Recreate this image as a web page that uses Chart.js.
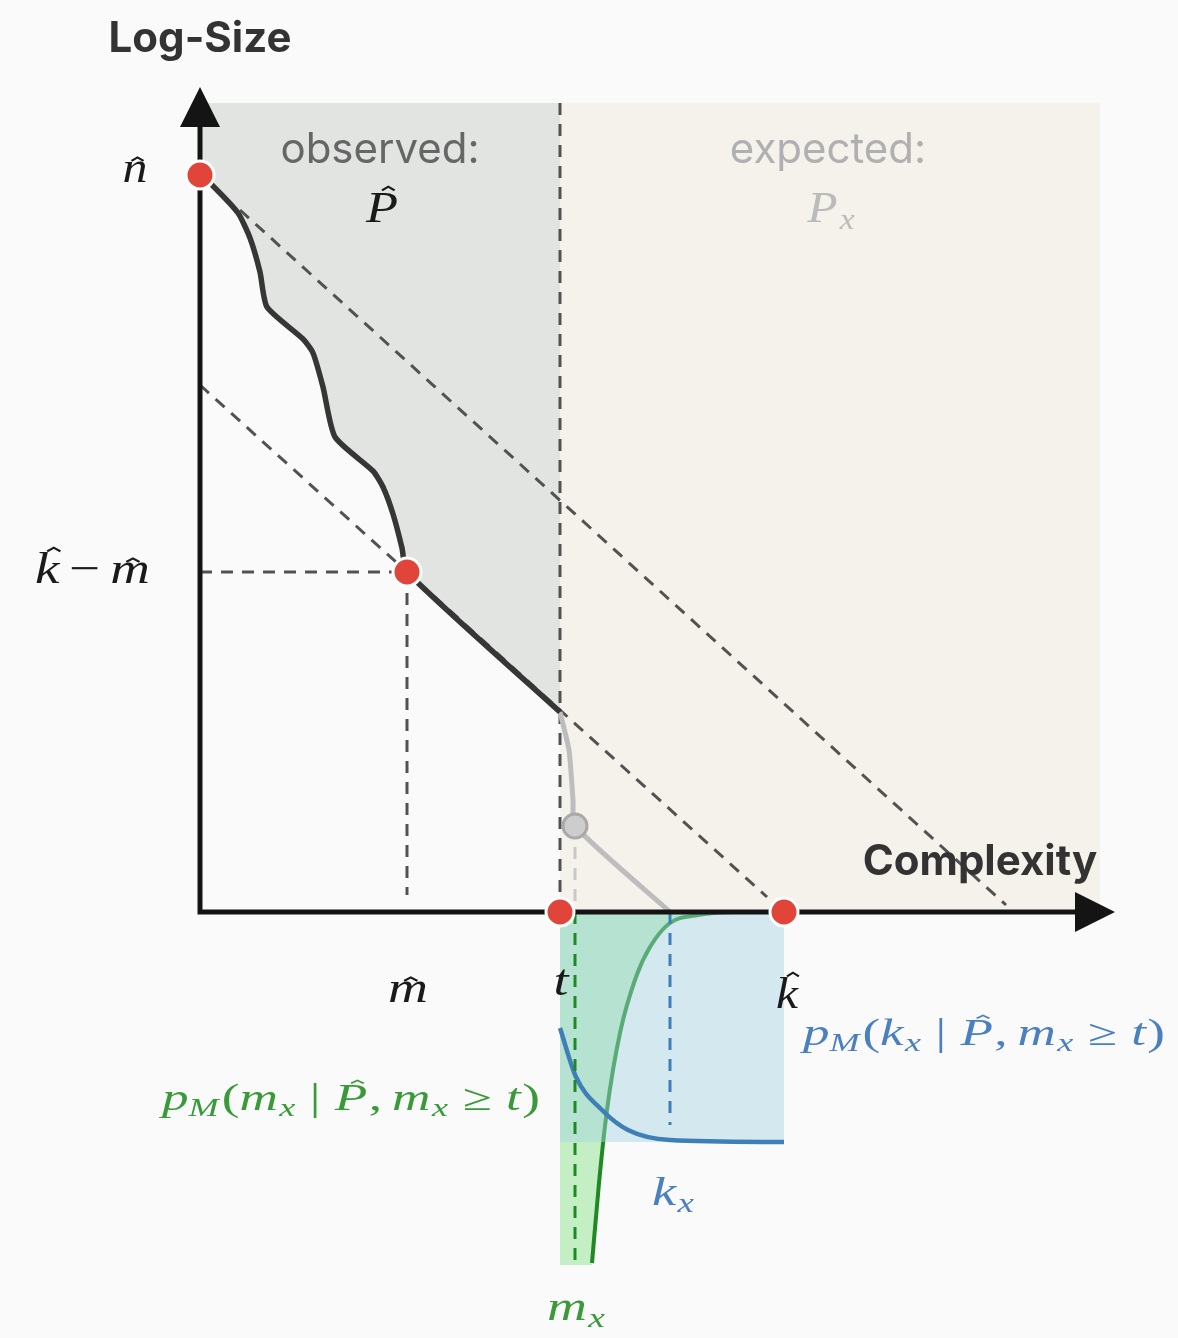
<!DOCTYPE html>
<html>
<head>
<meta charset="utf-8">
<script src="https://cdn.jsdelivr.net/npm/chart.js@4"></script>
<style>
  html, body { margin: 0; background: #fafafa; }
  canvas { display: block; }
</style>
</head>
<body>
<canvas id="canvas1" width="1178" height="1338"></canvas>
<script>
// observed profile P-hat: complexity vs log-size
const obsX = [0, 0.13, 0.38, 0.5, 0.6, 0.67, 1.03, 1.13, 1.23, 1.35, 1.73, 1.83, 1.93, 2.02, 2.07, 3.6];
const obsY = [7.37, 7.26, 6.99, 6.74, 6.4, 6.05, 5.73, 5.59, 5.25, 4.75, 4.41, 4.25, 3.98, 3.64, 3.4, 2.0];
// grey continuation past the threshold t
const contX = [3.6, 3.69, 3.73, 3.75, 4.7];
const contY = [2.0, 1.62, 1.12, 0.86, 0];
// the two parallel dashed guides
const diagTopX = [0.4, 8.06];
const diagTopY = [7.02, 0.07];
const diagLowX = [0, 5.67];
const diagLowY = [5.27, 0.15];
// marked values
const nHat = 7.37, mHat = 2.07, kmHat = 3.4, tVal = 3.6, kHat = 5.84;
const mx = 3.75, mxY = 0.86, kx = 4.7;
const yTop = 8.09, xRight = 9.0;
// densities hanging below the axis
const kDensX = [3.6, 3.76, 4.02, 4.28, 4.7, 5.84];
const kDensY = [-1.16, -1.65, -1.98, -2.18, -2.28, -2.3];
const mDensX = [3.92, 3.99, 4.07, 4.2, 4.36, 4.5, 4.7, 4.98, 5.37, 5.84];
const mDensY = [-3.51, -2.71, -1.98, -1.21, -0.65, -0.35, -0.11, -0.03, 0, 0];
const kDensBottom = -2.3;
const mDensBottom = -3.53;

function pts(xs, ys) {
  return xs.map((x, i) => ({ x: x, y: ys[i] }));
}

const dashed = { borderColor: "#525252", borderWidth: 3, borderDash: [12, 9] };
const none = "rgba(0,0,0,0)";

// bottom layer first
let layers = [
  // expected region
  { data: pts([tVal, xRight], [yTop, yTop]), borderColor: none, backgroundColor: "#f5f2ec", fill: "origin" },
  // observed region above the profile
  { data: pts(obsX, obsY), borderColor: none, backgroundColor: "#e1e4e1", fill: { value: yTop }, tension: 0.2 },
  // m_x density fill and curve
  { data: pts([tVal, mDensX[0]].concat(mDensX), [mDensBottom, mDensBottom].concat(mDensY)), borderColor: none,
    backgroundColor: "#c4eec4", fill: "origin", cubicInterpolationMode: "monotone" },
  { data: pts(mDensX, mDensY), borderColor: "#1f8a24", borderWidth: 4, cubicInterpolationMode: "monotone" },
  // k_x density box (translucent) and curve
  { data: pts([tVal, kHat], [kDensBottom, kDensBottom]), borderColor: none,
    backgroundColor: "rgba(163,210,227,0.45)", fill: "origin" },
  { data: pts(kDensX, kDensY), borderColor: "#3f7fb8", borderWidth: 4.5, cubicInterpolationMode: "monotone" },
  Object.assign({ data: pts([mx, mx], [0, mDensBottom]) }, dashed, { borderColor: "#1f8a24" }),
  Object.assign({ data: pts([kx, kx], [0, -2.13]) }, dashed, { borderColor: "#3f7fb8" }),
  // dashed guides
  Object.assign({ data: pts(diagTopX, diagTopY) }, dashed),
  Object.assign({ data: pts(diagLowX, diagLowY) }, dashed),
  Object.assign({ data: pts([tVal, tVal], [yTop, 0]) }, dashed),
  Object.assign({ data: pts([0, mHat], [kmHat, kmHat]) }, dashed),
  Object.assign({ data: pts([mHat, mHat], [kmHat, 0.17]) }, dashed),
  Object.assign({ data: pts([mx, mx], [mxY, 0.05]) }, dashed, { borderColor: "#c8c8c8" }),
  // profile lines
  { data: pts(contX, contY), borderColor: "#bdbdbd", borderWidth: 5, tension: 0.2 },
  { data: pts(obsX, obsY), borderColor: "#363636", borderWidth: 5.5, tension: 0.2 },
  // axes with arrow heads
  { data: pts([0, 0, 8.8], [7.9, 0, 0]), borderColor: "#141414", borderWidth: 5, borderJoinStyle: "miter" },
  { data: pts([-0.2, 0, 0.2], [7.85, 8.25, 7.85]), borderColor: none, backgroundColor: "#141414", fill: { value: 7.85 } },
  { data: pts([8.75, 9.15], [0.2, 0]), borderColor: none, backgroundColor: "#141414", fill: { value: 0 } },
  { data: pts([8.75, 9.15], [-0.2, 0]), borderColor: none, backgroundColor: "#141414", fill: { value: 0 } },
  // points
  { data: pts([mx], [mxY]), showLine: false, pointRadius: 12, pointBackgroundColor: "#cdcdcd",
    pointBorderColor: "#a9a9a9", pointBorderWidth: 3 },
  { data: pts([0, mHat, tVal, kHat], [nHat, kmHat, 0, 0]), showLine: false, pointRadius: 14,
    pointBackgroundColor: "#e1453a", pointBorderColor: "#ffffff", pointBorderWidth: 3 },
];

layers.forEach((d, i) => {
  d.order = layers.length - i;
  if (d.pointRadius === undefined) d.pointRadius = 0;
  if (d.tension === undefined) d.tension = 0;
  if (d.fill === undefined) d.fill = false;
});

// text labels: math parts are italic unless rm is set; g adds space after a part,
// w is the width the formula is stretched to (the source typesetting is wide)
const serif = '"Liberation Serif", "DejaVu Serif", serif';
const blueText = "#4a80c0", greenText = "#3a9a3a";
function density(first) {
  return [{ t: "p" }, { t: "M", sub: 1, g: 2 }, { t: "(", rm: 1 }, { t: first, g: 1 }, { t: "x", sub: 1, g: 10 },
          { t: "|", rm: 1, g: 10 }, { t: "P", hat: "hi", g: 1 }, { t: ",", rm: 1, g: 7 }, { t: "m", g: 1 }, { t: "x", sub: 1, g: 10 },
          { t: "\u2265", rm: 1, g: 10 }, { t: "t", g: 1 }, { t: ")", rm: 1 }];
}
const labels = [
  { sans: "Log-Size", x: 0, y: 8.6, font: "bold 42px Inter", color: "#333333" },
  { sans: "Complexity", x: 7.8, y: 0.37, font: "bold 42px Inter", color: "#333333" },
  { sans: "observed:", x: 1.8, y: 7.49, font: "42px Inter", color: "#666666" },
  { sans: "expected:", x: 6.28, y: 7.49, font: "42px Inter", color: "#b0b0b0" },
  { math: [{ t: "P", hat: "hi" }], x: 1.82, y: 6.9, size: 44, w: 32, color: "#1a1a1a" },
  { math: [{ t: "P", g: 2 }, { t: "x", sub: 1 }], x: 6.31, y: 6.9, size: 44, w: 47, color: "#bbbbbb" },
  { math: [{ t: "n", hat: "lo" }], x: -0.65, y: 7.3, size: 44, w: 25, color: "#1a1a1a" },
  { math: [{ t: "k", hat: "hi", g: 8 }, { t: "\u2212", rm: 1, g: 8 }, { t: "m", hat: "lo" }], x: -1.075, y: 3.29, size: 44, w: 115, color: "#1a1a1a" },
  { math: [{ t: "m", hat: "lo" }], x: mHat + 0.01, y: -0.9, size: 44, w: 40, color: "#1a1a1a" },
  { math: [{ t: "t" }], x: tVal + 0.01, y: -0.83, size: 44, w: 15, color: "#1a1a1a" },
  { math: [{ t: "k", hat: "hi" }], x: kHat + 0.03, y: -0.96, size: 44, w: 22, color: "#1a1a1a" },
  { math: density("k"), x: 7.84, y: -1.33, size: 37, w: 362, color: blueText },
  { math: density("m"), x: 1.51, y: -1.98, size: 37, w: 378, color: greenText },
  { math: [{ t: "k", g: 1 }, { t: "x", sub: 1 }], x: kx + 0.03, y: -2.93, size: 40, w: 42, color: blueText },
  { math: [{ t: "m", g: 1 }, { t: "x", sub: 1 }], x: mx + 0.01, y: -4.08, size: 40, w: 58, color: greenText },
];

function drawMath(ctx, parts, x, y, size, target, color) {
  const fontOf = p => (p.rm ? "" : "italic ") + (p.sub ? size * 0.68 : size) + "px " + serif;
  let w = 0;
  parts.forEach(p => {
    ctx.font = fontOf(p);
    p.w = ctx.measureText(p.t).width + (p.g || 0);
    w += p.w;
  });
  const sx = target ? target / w : 1;
  ctx.save();
  ctx.translate(x - (w * sx) / 2, y);
  ctx.scale(sx, 1);
  ctx.fillStyle = color;
  ctx.strokeStyle = color;
  ctx.textAlign = "left";
  ctx.textBaseline = "alphabetic";
  let cx = 0;
  parts.forEach(p => {
    ctx.font = fontOf(p);
    ctx.fillText(p.t, cx, p.sub ? size * 0.17 : 0);
    if (p.hat) {
      const gw = p.w - (p.g || 0);
      const hx = cx + gw / 2 + size * (p.hat === "hi" ? 0.12 : 0.05);
      const hy = -(p.hat === "hi" ? size * 0.8 : size * 0.56);
      ctx.lineWidth = size * 0.045;
      ctx.beginPath();
      ctx.moveTo(hx - size * 0.12, hy + size * 0.08);
      ctx.lineTo(hx, hy);
      ctx.lineTo(hx + size * 0.12, hy + size * 0.08);
      ctx.stroke();
    }
    cx += p.w;
  });
  ctx.restore();
}

const labelPlugin = {
  id: "labels",
  afterDatasetsDraw(chart) {
    const ctx = chart.ctx;
    const xs = chart.scales.x, ys = chart.scales.y;
    ctx.save();
    labels.forEach(l => {
      const px = xs.getPixelForValue(l.x), py = ys.getPixelForValue(l.y);
      if (l.sans) {
        ctx.font = l.font;
        ctx.fillStyle = l.color;
        ctx.textAlign = "center";
        ctx.textBaseline = "alphabetic";
        ctx.fillText(l.sans, px, py);
      } else {
        drawMath(ctx, l.math, px, py, l.size, l.w, l.color);
      }
    });
    ctx.restore();
  },
};

var ctx1 = document.getElementById("canvas1").getContext("2d");

let myChart = new Chart(ctx1, {
  type: "line",
  data: { datasets: layers },
  options: {
    responsive: false,
    animation: false,
    events: [],
    layout: { padding: 0, autoPadding: false },
    scales: {
      x: { type: "linear", min: -2, max: 9.78, display: false },
      y: { type: "linear", min: -4.26, max: 9.12, display: false },
    },
    plugins: {
      legend: { display: false },
      tooltip: { enabled: false },
    },
  },
  plugins: [labelPlugin],
});
</script>
</body>
</html>
